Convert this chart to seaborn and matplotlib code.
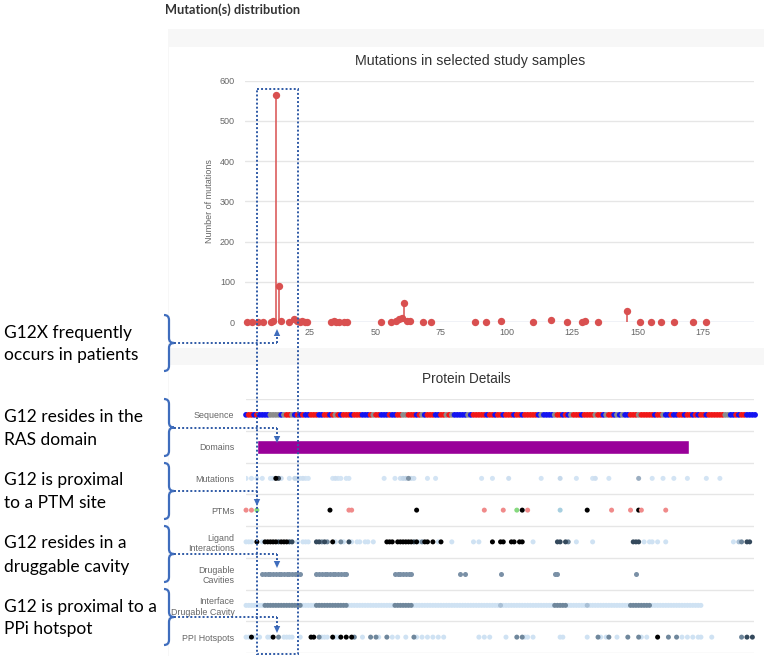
import numpy as np
import pandas as pd
import matplotlib
matplotlib.use("Agg")
import matplotlib.pyplot as plt
import seaborn as sns
from matplotlib.colors import LinearSegmentedColormap, LogNorm
from matplotlib.path import Path
from matplotlib.patches import PathPatch, Rectangle, Polygon

# ---------------- data ----------------
# lollipop: residue position -> number of mutations
mut_pos = [1, 3, 5, 7, 10, 11, 12, 13, 14, 17, 19, 20, 21, 22, 23, 24,
           33, 34, 35, 36, 38, 39, 52, 56, 58, 59, 60, 61, 62, 63, 68, 71,
           88, 92, 98, 110, 117, 123, 129, 130, 135, 146, 151, 155, 159, 164, 171, 176]
mut_count = [1, 1, 1, 1, 1, 2, 565, 90, 2, 1, 8, 3, 1, 2, 1, 1,
             1, 2, 1, 1, 1, 1, 1, 1, 2, 8, 10, 48, 3, 2, 1, 1,
             1, 1, 2, 1, 5, 1, 1, 2, 1, 28, 1, 1, 1, 1, 1, 1]
x_ticks = [25, 50, 75, 100, 125, 150, 175]
y_ticks = [0, 100, 200, 300, 400, 500, 600]

row_labels = ["Sequence", "Domains", "Mutations", "PTMs", "Ligand\nInteractions",
              "Drugable\nCavities", "Interface\nDrugable Cavity", "PPI Hotspots"]

sequence = ("MTEYKLVVVGAGGVGKSALTIQLIQNHFVDEYDPTIEDSYRKQVVIDGETCLLDILDTAG"
            "QEEYSAMRDQYMRTGEGFLCVFAINNTKSFEDIHHYREQIKRVKDSDDVPMVLVGNKCDL"
            "PSRTVDTKQAQDLARSYGIPFIETSAKTRQRVEDAFYTLVREIRQYRLKKISKEEKTPGC"
            "VKIKKCIIM")
hydrophobic = "VLIMFWYC"
small = "GAP"

domain_name = "Ras"
domain_start = 5
domain_end = 164

ptm_pos = [1, 3, 5, 32, 39, 40, 64, 89, 96, 101, 103, 105, 117, 127, 136, 143, 146, 147, 156]
ptm_type = ["red", "red", "green", "black", "red", "red", "black", "red", "red", "green",
            "black", "red", "blue", "black", "red", "red", "black", "red", "red"]

lig_pos = [1, 2, 3, 5, 7, 8, 9, 10, 11, 12, 13, 14, 15, 16, 17, 18, 20, 22, 23, 24,
           27, 28, 29, 30, 31, 33, 34, 36, 37, 39, 40, 42, 43, 45, 46, 48,
           53, 54, 55, 57, 58, 59, 60, 61, 62, 63, 64, 65, 66, 67, 68, 70, 72, 73, 77,
           85, 87, 92, 95, 96, 99, 100, 102, 103, 107, 116, 117, 119, 120, 123, 129,
           144, 145, 146, 148, 150, 151, 153, 156, 181, 183, 184, 186, 187]
lig_level = [1, 1, 1, 5, 1, 5, 5, 5, 5, 5, 4, 5, 5, 5, 4, 4, 1, 1, 1, 1,
             4, 4, 3, 4, 3, 5, 1, 3, 1, 4, 1, 1, 1, 1, 1, 1,
             5, 5, 5, 5, 5, 5, 5, 5, 5, 4, 5, 1, 3, 5, 5, 5, 1, 5, 1,
             1, 1, 5, 5, 5, 5, 5, 5, 5, 1, 4, 4, 4, 3, 1, 1,
             4, 4, 4, 1, 1, 1, 1, 1, 1, 2, 3, 4, 4]

cav_pos = [7, 8, 9, 10, 11, 12, 13, 14, 15, 16, 17, 18, 19, 20, 21,
           27, 28, 29, 30, 31, 32, 33, 34, 35, 36, 37, 38,
           56, 57, 58, 59, 60, 61, 62, 80, 82, 95, 115, 116, 145]

# interface drugable cavity: runs of (start, end, level)
iface_start = [1, 8, 22, 27, 39, 56, 63, 95, 96, 115, 120, 127, 128, 143, 151]
iface_end = [7, 21, 26, 38, 55, 62, 94, 95, 114, 119, 126, 127, 142, 150, 169]
iface_level = [1, 3, 1, 3, 1, 3, 1, 2, 1, 3, 1, 2, 1, 3, 1]

ppi_pos = [1, 2, 3, 4, 6, 9, 10, 11, 13, 15, 16, 17, 18, 21, 25, 26, 28, 29, 30, 31,
           33, 34, 35, 36, 38, 40, 41, 44, 47, 49, 50, 53, 55, 57, 60, 63, 64, 66, 68,
           70, 72, 74, 87, 89, 91, 97, 101, 103, 104, 105, 107, 117, 118, 127, 131, 132,
           134, 135, 138, 142, 146, 147, 149, 153, 157, 160, 162, 164, 166, 168, 169,
           173, 184, 186, 188]
ppi_level = [1, 1, 5, 1, 1, 1, 1, 5, 3, 1, 1, 1, 1, 1, 5, 5, 3, 1, 1, 1,
             5, 1, 1, 5, 5, 5, 3, 1, 3, 3, 1, 3, 1, 1, 1, 3, 1, 1, 1,
             1, 1, 1, 1, 1, 1, 1, 3, 3, 1, 1, 1, 1, 1, 1, 3, 1,
             1, 3, 1, 3, 3, 1, 1, 5, 3, 3, 1, 1, 1, 1, 1,
             1, 3, 4, 4]

annotations = [("G12X frequently", "occurs in patients"),
               ("G12 resides in the", "RAS domain"),
               ("G12 is proximal", "to a PTM site"),
               ("G12 resides in a", "druggable cavity"),
               ("G12 is proximal to a", "PPi hotspot")]

# ---------------- style ----------------
sns.set_theme(style="white")
plt.rcParams['font.family'] = ['Liberation Sans', 'DejaVu Sans']

RED = "#d95050"
GRID = "#e6e6e6"
TXT = "#666666"
level_pal = {1: "#cfe2f3", 2: "#a9c0d6", 3: "#6f879c", 4: "#34495c", 5: "#000000"}
seq_pal = {"hydrophobic": "#1414f0", "small": "#8c8c8c", "polar": "#f01818"}
ptm_pal = {"red": "#f08a8a", "green": "#86d97f", "black": "#000000", "blue": "#a7cfe0"}
mut_cmap = LinearSegmentedColormap.from_list(
    "mut", [(0, "#d3e4f4"), (0.4, "#bfd3e6"), (0.6, "#8598ab"), (0.72, "#3e4d5c"), (1, "#000000")])

W, H = 764, 656
fig = plt.figure(figsize=(W / 100, H / 100), dpi=100)


def rect(x0, y0, x1, y1):
    return [x0 / W, 1 - y1 / H, (x1 - x0) / W, (y1 - y0) / H]


# background cards
bg = fig.add_axes([0, 0, 1, 1], zorder=0)
bg.set_xlim(0, W); bg.set_ylim(H, 0); bg.axis("off")
bg.add_patch(Rectangle((168, 29), 596, 627, fc="#f7f7f7", ec="none"))
bg.add_patch(Rectangle((169, 47), 595, 301, fc="white", ec="none"))
bg.add_patch(Rectangle((169, 365), 595, 291, fc="white", ec="none"))
bg.text(165, 10, "Mutation(s) distribution", fontsize=9.2, fontweight="bold",
        color="#333333", ha="left", va="center", family=["Lato", "DejaVu Sans"])
bg.text(470, 61, "Mutations in selected study samples", fontsize=10.3, color="#333333",
        ha="center", va="center")
bg.text(466, 379, "Protein Details", fontsize=9.8, color="#333333", ha="center", va="center")

# ---------------- top lollipop ----------------
ax1 = fig.add_axes(rect(244.5, 80.7, 754, 322), zorder=1)
ax1.set_facecolor("none")
df_mut = pd.DataFrame({"pos": mut_pos, "count": mut_count})
ax1.axhline(0, color="#ccd6eb", lw=1, zorder=1)
ax1.vlines(df_mut["pos"], 0, df_mut["count"], color=RED, lw=1.1, zorder=2)
sns.scatterplot(data=df_mut, x="pos", y="count", color=RED, s=28, linewidth=0,
                ax=ax1, zorder=3, clip_on=False, legend=False)
ax1.set_xlim(0, 194.47)
ax1.set_ylim(0, 600)
ax1.set_xticks(x_ticks)
ax1.set_yticks(y_ticks)
ax1.grid(axis="y", color=GRID, lw=1)
ax1.grid(axis="x", visible=False)
for s in ax1.spines.values():
    s.set_visible(False)
ax1.tick_params(axis="y", length=0, pad=6.8, labelsize=6.5, labelcolor=TXT)
ax1.tick_params(axis="x", length=0, pad=4, labelsize=6.5, labelcolor=TXT)
ax1.set_xlabel("")
ax1.set_ylabel("Number of mutations", fontsize=6.5, color=TXT)
ax1.yaxis.set_label_coords(-(244.5 - 214) / 509.5, 0.5)

# ---------------- protein details ----------------
ax2 = fig.add_axes(rect(245.5, 399, 754, 653), zorder=1)
ax2.set_facecolor("none")
for b in np.arange(-0.5, 8.0, 1.0):
    ax2.axhline(b, color=GRID, lw=1, zorder=0)

# row 0: sequence
seq_df = pd.DataFrame({"pos": np.arange(1, len(sequence) + 1), "aa": list(sequence)})
seq_df["cls"] = ["hydrophobic" if a in hydrophobic else ("small" if a in small else "polar")
                 for a in seq_df["aa"]]
seq_df["row"] = 0
sns.scatterplot(data=seq_df, x="pos", y="row", hue="cls", palette=seq_pal, s=17,
                linewidth=0, ax=ax2, legend=False, clip_on=False, zorder=3)

# row 1: domain
ax2.barh(1, domain_end - domain_start + 0.5, left=domain_start, height=0.44,
         color="#990099", zorder=3)

# row 2: mutations (shaded by count)
mrow = df_mut.copy(); mrow["row"] = 2
mrow = mrow.sort_values("count")
sns.scatterplot(data=mrow, x="pos", y="row", hue="count", palette=mut_cmap,
                hue_norm=LogNorm(1, 565), s=13, linewidth=0, ax=ax2, legend=False, zorder=3)

# row 3: PTMs
ptm_df = pd.DataFrame({"pos": ptm_pos, "kind": ptm_type, "row": 3})
sns.scatterplot(data=ptm_df, x="pos", y="row", hue="kind", palette=ptm_pal, s=13,
                linewidth=0, ax=ax2, legend=False, clip_on=False, zorder=3)

# row 4: ligand interactions
lig_df = pd.DataFrame({"pos": lig_pos, "level": lig_level, "row": 4}).sort_values("level")
sns.scatterplot(data=lig_df, x="pos", y="row", hue="level", palette=level_pal, s=13,
                linewidth=0, ax=ax2, legend=False, clip_on=False, zorder=3)

# row 5: drugable cavities
cav_df = pd.DataFrame({"pos": cav_pos, "row": 5})
sns.scatterplot(data=cav_df, x="pos", y="row", color="#7a90a6", s=13,
                linewidth=0, ax=ax2, legend=False, zorder=3)

# row 6: interface drugable cavity (expand runs into residues)
if_pos, if_lev = [], []
for a, b, l in zip(iface_start, iface_end, iface_level):
    for p in range(a, b + 1):
        if_pos.append(p); if_lev.append(l)
if_df = pd.DataFrame({"pos": if_pos, "level": if_lev, "row": 6}).sort_values("level")
sns.scatterplot(data=if_df, x="pos", y="row", hue="level", palette=level_pal, s=13,
                linewidth=0, ax=ax2, legend=False, clip_on=False, zorder=3)

# row 7: PPI hotspots
ppi_df = pd.DataFrame({"pos": ppi_pos, "level": ppi_level, "row": 7}).sort_values("level")
sns.scatterplot(data=ppi_df, x="pos", y="row", hue="level", palette=level_pal, s=13,
                linewidth=0, ax=ax2, legend=False, clip_on=False, zorder=3)

ax2.set_xlim(0.8, 188.6)
ax2.set_ylim(7.5, -0.5)
ax2.set_yticks(range(len(row_labels)))
ax2.set_yticklabels(row_labels, linespacing=1.2)
ax2.set_xticks([])
ax2.set_xlabel(""); ax2.set_ylabel("")
ax2.grid(False)
for s in ax2.spines.values():
    s.set_visible(False)
ax2.tick_params(axis="y", length=0, pad=8, labelsize=6.4, labelcolor=TXT)

# ---------------- annotation overlay ----------------
ov = fig.add_axes([0, 0, 1, 1], zorder=5)
ov.set_xlim(0, W); ov.set_ylim(H, 0); ov.axis("off"); ov.patch.set_alpha(0)

DOT = "#2f5aa6"
BRACE = "#3f6dbd"
dls = dict(color=DOT, lw=1.4, ls=(0, (1, 1.1)), solid_capstyle="butt")

ov.add_patch(Rectangle((257, 89), 41, 565, fill=False, ec=DOT, lw=1.4, ls=(0, (1, 1.1))))

brace_spans = [(315, 371), (399, 456), (463, 519), (526, 582), (589, 645)]
arrow_x = [277, 277, 257, 277, 277]
arrow_tip = [329, 443, 506, 568, 633]
text_y = [(333, 355), (417, 440), (480, 503), (543, 567), (607, 629)]


def brace(ax, yt, yb, x=169, w=5):
    ym = (yt + yb) / 2
    verts = [(x - w, yt), (x, yt), (x, yt + w), (x, ym - w), (x, ym), (x + w, ym),
             (x, ym), (x, ym + w), (x, yb - w), (x, yb), (x - w, yb)]
    codes = [Path.MOVETO, Path.CURVE3, Path.CURVE3, Path.LINETO, Path.CURVE3, Path.CURVE3,
             Path.CURVE3, Path.CURVE3, Path.LINETO, Path.CURVE3, Path.CURVE3]
    ax.add_patch(PathPatch(Path(verts, codes), fill=False, ec=BRACE, lw=1.6))
    return ym


for (yt, yb), xa, tip, (t1, t2), (l1, l2) in zip(brace_spans, arrow_x, arrow_tip, text_y, annotations):
    ym = brace(ov, yt, yb)
    ov.plot([174, xa], [ym, ym], **dls)
    if tip < ym:
        ov.plot([xa, xa], [ym, tip + 6], **dls)
        ov.add_patch(Polygon([(xa - 3.2, tip + 7), (xa + 3.2, tip + 7), (xa, tip)], fc=BRACE, ec="none"))
    else:
        ov.plot([xa, xa], [ym, tip - 6], **dls)
        ov.add_patch(Polygon([(xa - 3.2, tip - 7), (xa + 3.2, tip - 7), (xa, tip)], fc=BRACE, ec="none"))
    for ty, txt in ((t1, l1), (t2, l2)):
        ov.text(4, ty, txt, fontsize=12.5, color="black", ha="left", va="center",
                family=["Lato", "DejaVu Sans"])

fig.savefig("out.png", dpi=100)
